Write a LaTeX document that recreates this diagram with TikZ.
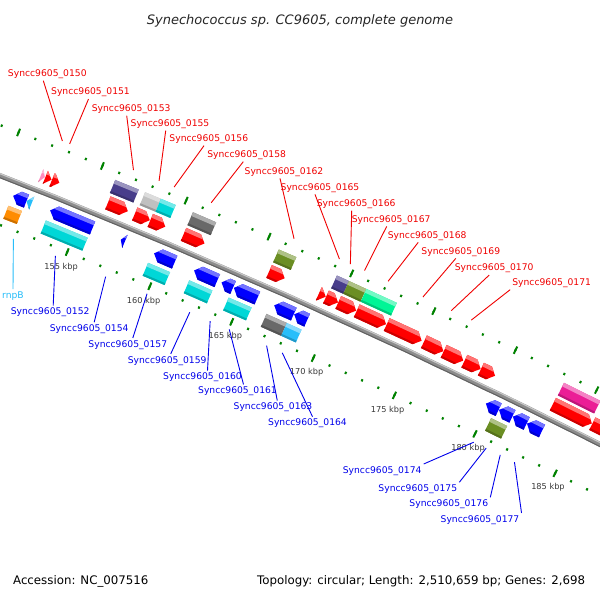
\documentclass[tikz,border=0pt]{standalone}
\usepackage{fontspec}
\setmainfont{DejaVu Sans}

\definecolor{cdsred}{RGB}{255,0,0}
\definecolor{cdsblue}{RGB}{0,0,255}
\definecolor{trnapink}{RGB}{255,140,190}
\definecolor{rnablue}{RGB}{40,190,250}
\definecolor{cogslate}{RGB}{72,61,139}
\definecolor{cogsilver}{RGB}{192,192,192}
\definecolor{cogcyan}{RGB}{0,215,215}
\definecolor{coggray}{RGB}{105,105,105}
\definecolor{cogolive}{RGB}{107,142,35}
\definecolor{coggreen}{RGB}{0,245,150}
\definecolor{cogpink}{RGB}{235,30,150}
\definecolor{cogorange}{RGB}{255,140,0}
\definecolor{tickgreen}{RGB}{0,130,0}
\definecolor{lblred}{RGB}{240,0,0}
\definecolor{lblblue}{RGB}{0,0,235}

\begin{document}
\begin{tikzpicture}[
    x=1pt, y=-1pt,
    font=\fontsize{9.2}{11}\selectfont,
    fwdlbl/.style={text=lblred, inner sep=2pt, anchor=base},
    revlbl/.style={text=lblblue, inner sep=2pt, anchor=base},
    fwdline/.style={lblred, line width=0.9pt},
    revline/.style={lblblue, line width=0.9pt},
    kbp/.style={text=black!78, inner sep=0pt, font=\fontsize{8.2}{10}\selectfont},
    ruler/.style={tickgreen, line width=2pt},
]
    \useasboundingbox (0,0) rectangle (600,600);
    \fill[white] (0,0) rectangle (600,600);
    \clip (0,0) rectangle (600,600);

    % title and legend
    \node[anchor=base, text=black!85, font=\fontsize{13}{15}\selectfont\itshape] (title) at (300,24) {Synechococcus sp. CC9605, complete genome};
    \node[anchor=base west, font=\fontsize{11.8}{14}\selectfont] (acc) at (9.6,584) {Accession: NC\_007516};
    \node[anchor=base east, font=\fontsize{11.8}{14}\selectfont] (topo) at (588.6,584) {Topology: circular; Length: 2,510,659 bp; Genes: 2,698};

    % a piece of the genome circle, its centre lies far off the page
    \begin{scope}[shift={(-2633.4,6856.9)}]
    % backbone
    \draw[line width=5pt, black!45] plot[domain=-69:-62.5, samples=60] (\x:7182);
    \draw[line width=1.2pt, black!22] plot[domain=-69:-62.5, samples=60] (\x:7183.7);
    \draw[line width=1pt, black!62] plot[domain=-69:-62.5, samples=60] (\x:7180);

    % ruler rings, 1 kbp and 5 kbp
    \foreach \k in {147,...,190}{
        \pgfmathsetmacro\t{-67.76+0.14339*(\k-155)}
        \draw[ruler] (\t:7227.8) -- (\t:7230.2) (\t:7134.8) -- (\t:7137.2);
    }
    \foreach \k in {150,155,...,190}{
        \pgfmathsetmacro\t{-67.76+0.14339*(\k-155)}
        \draw[ruler] (\t:7225) -- (\t:7233) (\t:7132) -- (\t:7140);
    }
    \foreach \k in {155,160,...,185}{
        \pgfmathsetmacro\t{-67.76+0.14339*(\k-155)}
        \node[kbp] (k\k) at (\t:7120) {\k\ kbp};
    }

    % forward strand genes
    \foreach \a/\b/\c in {152.03/152.27/trnapink, 152.30/152.67/cdsred,
        152.70/153.14/cdsred, 156.05/157.25/cdsred, 157.67/158.57/cdsred,
        158.60/159.50/cdsred, 160.60/161.87/cdsred, 165.78/166.72/cdsred,
        168.80/169.22/cdsred, 169.24/169.97/cdsred, 169.99/171.08/cdsred,
        171.11/172.90/cdsred, 172.94/175.08/cdsred, 175.22/176.42/cdsred,
        176.44/177.64/cdsred, 177.71/178.71/cdsred, 178.73/179.60/cdsred,
        183.17/185.59/cdsred, 185.62/188.00/cdsred}{
        \pgfmathsetmacro\ta{-67.76+0.14339*(\a-155)}
        \pgfmathsetmacro\tb{-67.76+0.14339*(\b-155)}
        \pgfmathsetmacro\ts{max(\ta,\tb-0.054)}
        \pgfmathsetmacro\th{\ts+(\tb-\ts)*4/7}
        \pgfmathsetmacro\tl{\ts+(\tb-\ts)*2/7}
        \fill[\c] (\ta:7190) -- (\ta:7204) -- (\ts:7204) -- (\tb:7197) -- (\ts:7190) -- cycle;
        \fill[\c!55!white] (\ta:7200) -- (\ta:7204) -- (\ts:7204) -- (\th:7200) -- cycle;
        \fill[\c!80!black] (\ta:7190) -- (\ta:7192) -- (\tl:7192) -- (\ts:7190) -- cycle;
    }

    % reverse strand genes
    \foreach \a/\b/\c in {151.02/151.82/cdsblue, 151.82/152.13/rnablue,
        153.24/155.80/cdsblue, 157.50/157.75/cdsblue, 159.50/160.75/cdsblue,
        161.93/163.34/cdsblue, 163.60/164.30/cdsblue, 164.35/165.78/cdsblue,
        166.80/168.00/cdsblue, 168.02/168.82/cdsblue, 179.81/180.60/cdsblue,
        180.62/181.46/cdsblue, 181.48/182.34/cdsblue, 182.36/183.29/cdsblue}{
        \pgfmathsetmacro\ta{-67.76+0.14339*(\a-155)}
        \pgfmathsetmacro\tb{-67.76+0.14339*(\b-155)}
        \pgfmathsetmacro\ts{min(\tb,\ta+0.054)}
        \pgfmathsetmacro\th{\ts-(\ts-\ta)*4/7}
        \pgfmathsetmacro\tl{\ts-(\ts-\ta)*2/7}
        \fill[\c] (\tb:7161) -- (\tb:7175) -- (\ts:7175) -- (\ta:7168) -- (\ts:7161) -- cycle;
        \fill[\c!55!white] (\tb:7171) -- (\tb:7175) -- (\ts:7175) -- (\th:7171) -- cycle;
        \fill[\c!80!black] (\tb:7161) -- (\tb:7163) -- (\tl:7163) -- (\ts:7161) -- cycle;
    }

    % category rings (outer one forward, inner one reverse)
    \foreach \a/\b/\c/\r in {155.95/157.35/cogslate/7207, 157.73/158.68/cogsilver/7207,
        158.68/159.57/cogcyan/7207, 160.60/162.00/coggray/7207,
        165.78/166.84/cogolive/7207, 169.30/170.04/cogslate/7207,
        170.04/171.09/cogolive/7207, 171.10/172.95/coggreen/7207,
        183.20/185.45/cogpink/7207,
        150.98/151.79/cogorange/7143, 153.23/155.75/cogcyan/7143,
        159.40/160.73/cogcyan/7143, 161.90/163.31/cogcyan/7143,
        164.30/165.70/cogcyan/7143, 166.60/167.85/coggray/7143,
        167.85/168.75/rnablue/7143, 180.43/181.43/cogolive/7143}{
        \pgfmathsetmacro\ta{-67.76+0.14339*(\a-155)}
        \pgfmathsetmacro\tb{-67.76+0.14339*(\b-155)}
        \fill[\c] (\ta:\r) -- (\ta:\r+14) -- (\tb:\r+14) -- (\tb:\r) -- cycle;
        \fill[\c!55!white] (\ta:\r+10) -- (\ta:\r+14) -- (\tb:\r+14) -- (\tb:\r+10) -- cycle;
        \fill[\c!80!black] (\ta:\r) -- (\ta:\r+2) -- (\tb:\r+2) -- (\tb:\r) -- cycle;
    }

    % label anchors on the genes
    \foreach \n/\k in {0150/152.43, 0151/152.86, 0153/156.67, 0155/158.2,
        0156/159.1, 0158/161.32, 0162/166.31, 0165/169.06, 0166/169.72,
        0167/170.58, 0168/172.01, 0169/174.12, 0170/175.86, 0171/177.08}{
        \pgfmathsetmacro\t{-67.76+0.14339*(\k-155)}
        \coordinate (g\n) at (\t:7237);
    }
    \foreach \n/\k in {rnpB/151.92, 0152/154.46, 0154/157.51, 0157/160.02,
        0159/162.63, 0160/163.88, 0161/165.05, 0163/167.33, 0164/168.29,
        0174/180.14, 0175/180.91, 0176/181.79, 0177/182.68}{
        \pgfmathsetmacro\t{-67.76+0.14339*(\k-155)}
        \coordinate (g\n) at (\t:7128);
    }
    \end{scope}

    % forward labels
    \foreach \n/\x/\y/\d/\an in {0150/47.3/76.3/-4/south, 0151/90.5/94.7/-2/south,
        0153/131.2/111.3/-4.5/south, 0155/170/126.3/-4.3/south,
        0156/208.8/141.3/-4.8/south, 0158/246.7/157.3/-3.4/south,
        0162/284/174/-4/south, 0165/320/190/-5/south,
        0166/356.2/206.3/-4.5/south, 0167/391.2/222/-4.5/south,
        0168/427.2/238/-9/south, 0169/460.8/254/-5/south,
        0170/494.2/270.7/-5/south, 0171/551.7/285.3/0/south west}{
        \node[fwdlbl] (l\n) at (\x,\y) {Syncc9605\_\n};
        \draw[fwdline] ([xshift=\d pt]l\n.\an) -- (g\n);
    }

    % reverse labels
    \foreach \n/\x/\y/\d/\an in {0152/50.2/314.7/3/north, 0154/89.2/331.3/5/north,
        0157/127.8/347/5/north, 0159/167.2/363/3.5/north,
        0160/202.5/379.7/5/north, 0161/237.5/393.5/6/north,
        0163/273/409.7/4.3/north, 0164/307.5/425.7/5/north,
        0174/382.2/473/0/north east, 0175/417.8/491.3/0/north east,
        0176/448.8/506.3/0/north east, 0177/480/522/0/north east}{
        \node[revlbl] (l\n) at (\x,\y) {Syncc9605\_\n};
        \draw[revline] ([xshift=\d pt]l\n.\an) -- (g\n);
    }
    \node[revlbl, text=rnablue] (lrnpB) at (13,298) {rnpB};
    \draw[revline, rnablue] (lrnpB.north) -- (grnpB);
\end{tikzpicture}
\end{document}
